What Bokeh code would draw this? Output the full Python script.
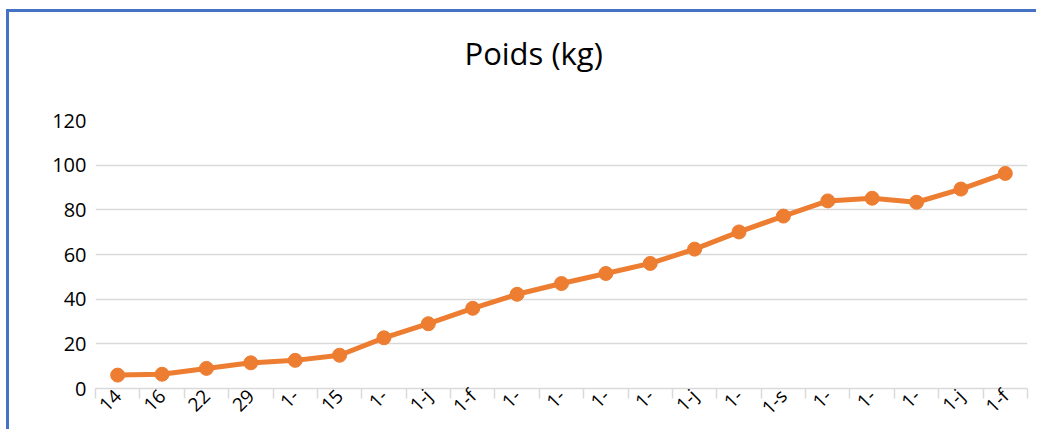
from math import pi
from bokeh.plotting import figure
from bokeh.models import FixedTicker, ColumnDataSource, Range1d, Title
from bokeh.embed import file_html
from bokeh.resources import INLINE

# ---- data ----
labels = ["14", "16", "22", "29", "1-", "15", "1-", "1-j", "1-f", "1-",
          "1-", "1-", "1-", "1-j", "1-", "1-s", "1-", "1-", "1-", "1-j", "1-f"]
poids = [6.0, 6.4, 9.0, 11.5, 12.6, 14.9, 22.7, 29.0, 35.9, 42.2,
         47.0, 51.5, 56.0, 62.4, 70.1, 77.2, 84.0, 85.2, 83.4, 89.3, 96.3]
y_ticks = [0, 20, 40, 60, 80, 100, 120]
title_text = "Poids (kg)"

idx = list(range(1, len(poids) + 1))
FONT = "Open Sans"
ORANGE = "#ED7D31"

p = figure(width=1030, height=420, output_backend="svg", toolbar_location=None,
           x_range=Range1d(0.5, len(poids) + 0.5), y_range=Range1d(0, 120),
           min_border_left=86, min_border_right=12, min_border_top=108,
           min_border_bottom=44)
p.styles = {"margin-left": "6px", "margin-top": "9px",
            "border-top": "3px solid #4472C4", "border-left": "3px solid #4472C4"}
p.outline_line_color = None
p.background_fill_color = "white"
p.border_fill_color = "white"

# title (a small spacer title keeps it high above the plot area)
spacer = Title(text=" ", text_font_size="1px", standoff=44)
p.add_layout(spacer, "above")
p.title.text = title_text
p.title.align = "left"
p.title.offset = 369
p.title.standoff = 0
p.title.text_font = FONT
p.title.text_font_size = "31px"
p.title.text_font_style = "normal"
p.title.text_color = "#000000"

# grid
p.xgrid.grid_line_color = None
p.ygrid.grid_line_color = "#D9D9D9"
p.ygrid.grid_line_width = 1.3
p.ygrid.ticker = FixedTicker(ticks=y_ticks)

# y axis
p.yaxis.ticker = FixedTicker(ticks=y_ticks)
p.yaxis.axis_line_color = None
p.yaxis.major_tick_line_color = None
p.yaxis.major_tick_out = 0
p.yaxis.major_tick_in = 0
p.yaxis.minor_tick_line_color = None
p.yaxis.major_label_standoff = 9
p.yaxis.major_label_text_font = FONT
p.yaxis.major_label_text_font_size = "20px"
p.yaxis.major_label_text_color = "#000000"

# x axis: ticks between categories, labels at category centres
p.xaxis.ticker = FixedTicker(ticks=idx,
                             minor_ticks=[i - 0.5 for i in idx] + [len(idx) + 0.5])
p.xaxis.major_label_overrides = {i: lab for i, lab in zip(idx, labels)}
p.xaxis.major_label_orientation = pi / 4
p.xaxis.axis_line_color = "#D9D9D9"
p.xaxis.axis_line_width = 1.5
p.xaxis.major_tick_line_color = None
p.xaxis.major_tick_out = 0
p.xaxis.major_tick_in = 0
p.xaxis.minor_tick_line_color = "#D9D9D9"
p.xaxis.minor_tick_line_width = 1.5
p.xaxis.minor_tick_out = 0
p.xaxis.minor_tick_in = -10
p.xaxis.major_label_standoff = 4
p.xaxis.major_label_text_font = FONT
p.xaxis.major_label_text_font_size = "19px"
p.xaxis.major_label_text_color = "#000000"

src = ColumnDataSource(dict(x=idx, y=poids))
p.line("x", "y", source=src, line_color=ORANGE, line_width=5)
p.scatter("x", "y", source=src, size=14, fill_color=ORANGE, line_color=ORANGE)

open("out.html", "w").write(file_html(p, INLINE))
